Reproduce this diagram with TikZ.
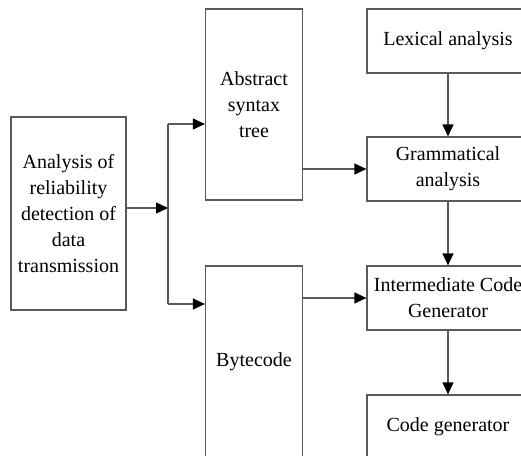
\documentclass[tikz,border=0pt]{standalone}
\usepackage{fontspec}
\setmainfont{Liberation Serif}
\usetikzlibrary{arrows.meta}

\begin{document}
\begin{tikzpicture}[x=0.5pt,y=-0.5pt,
	box/.style={draw=black!65,line width=0.6pt,align=center,inner sep=0pt,
		font=\fontsize{10}{13}\selectfont},
	line/.style={draw=black!65,line width=0.6pt},
	arr/.style={line,-{Triangle[length=6pt,width=5.5pt,color=black]}}]
	\useasboundingbox (0,0) rectangle (521,456);
	\clip (0,0) rectangle (521,456);
	\node[box,minimum width=57.5pt,minimum height=96.5pt] (ana) at (68.5,213.5) {Analysis of\\reliability\\detection of\\data\\transmission};
	\node[box,minimum width=48.5pt,minimum height=95.5pt] (ast) at (254,104.5) {Abstract\\syntax\\tree};
	\node[box,minimum width=48.5pt,minimum height=96pt] (byte) at (254,362) {Bytecode};
	\node[box,minimum width=81pt,minimum height=32pt] (lex) at (448,41) {Lexical analysis};
	\node[box,minimum width=81pt,minimum height=32pt] (gram) at (448,169) {Grammatical\\analysis};
	\node[box,minimum width=81pt,minimum height=32pt] (inter) at (448,298) {Intermediate Code\\Generator};
	\node[box,minimum width=81pt,minimum height=32pt] (code) at (448,427) {Code generator};
	
	\coordinate (split) at (168,208);
	\coordinate (up) at (168,124);
	\coordinate (down) at (168,304);
	\draw[arr] (ana.east |- split) -- (split);
	\draw[line] (up) -- (down);
	\draw[arr] (up) -- (ast.west |- up);
	\draw[arr] (down) -- (byte.west |- down);
	
	\draw[arr] (ast.east |- gram.west) -- (gram.west);
	\draw[arr] (byte.east |- inter.west) -- (inter.west);
	\draw[arr] (lex) -- (gram);
	\draw[arr] (gram) -- (inter);
	\draw[arr] (inter) -- (code);
\end{tikzpicture}
\end{document}
